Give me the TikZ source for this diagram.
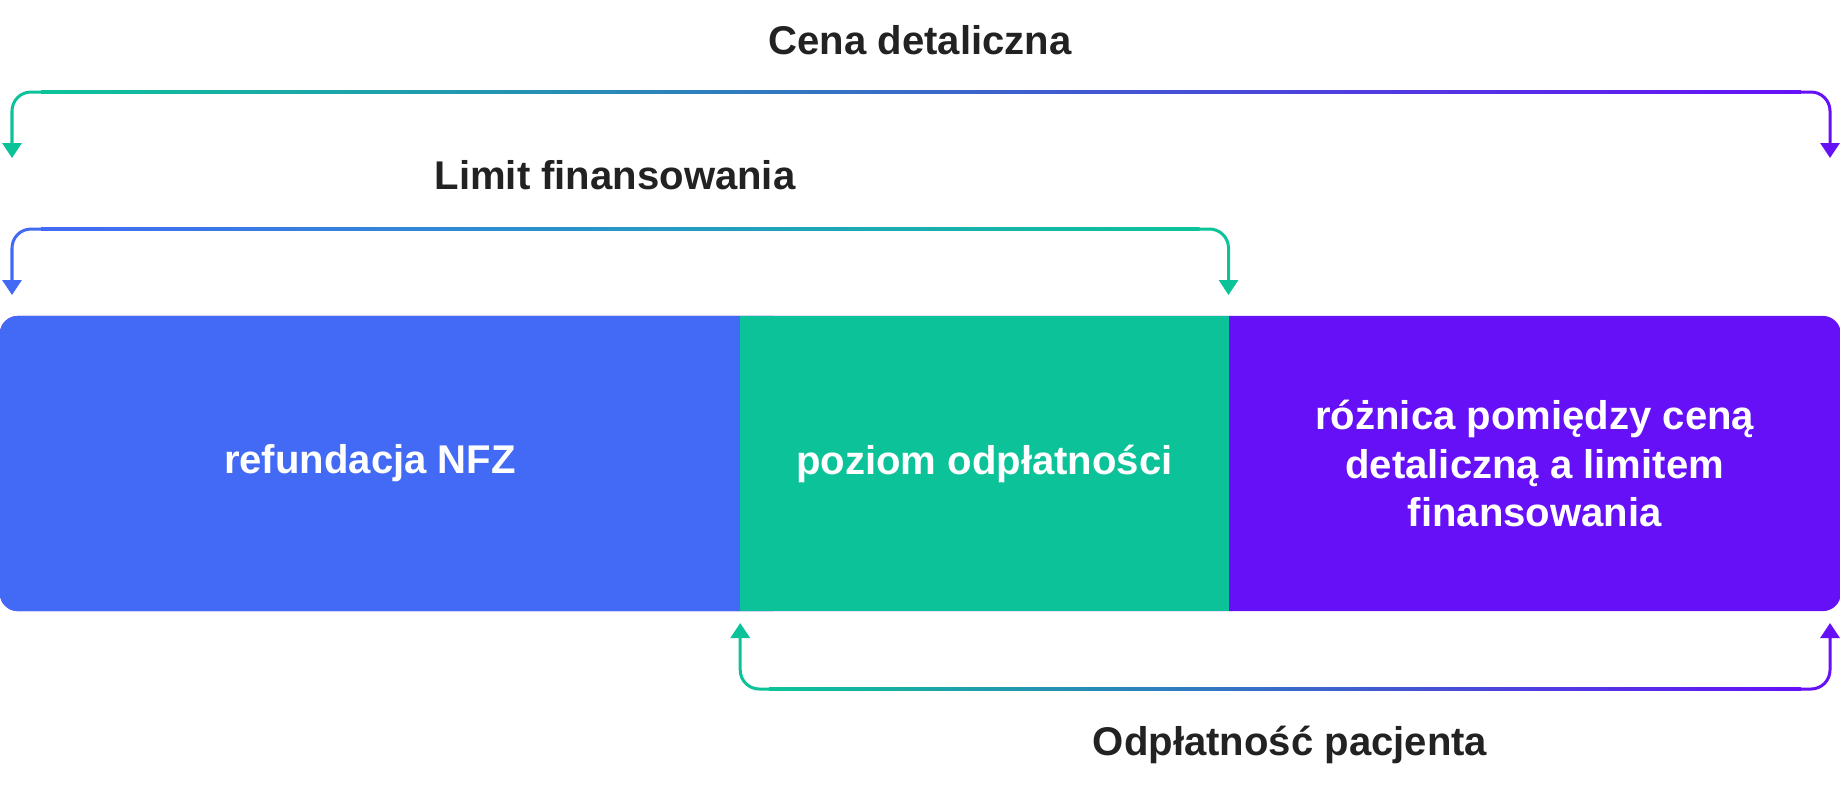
\documentclass[tikz,border=0pt]{standalone}
\usepackage{fontspec}
\setmainfont{Liberation Sans}
\usetikzlibrary{arrows.meta}
\usetikzlibrary{positioning}
\usetikzlibrary{backgrounds}
\definecolor{nfzblue}{HTML}{436AF5}
\definecolor{paygreen}{HTML}{0CC399}
\definecolor{diffviolet}{HTML}{6610F7}
\definecolor{labelgray}{HTML}{222222}
\newcommand{\barfont}{\fontsize{11.4}{13.66}\selectfont\bfseries}
\tikzset{seg/.style = {inner sep = 0, outer sep = 0, minimum height = 2.95cm,
                       text = white, font = \barfont, align = center}}
\tikzset{title/.style = {text = labelgray, font = \barfont}}
\tikzset{brk/.style = {line width = 0.03cm, rounded corners = 0.19cm,
                       -{Triangle[width = 0.19cm, length = 0.15cm]}}}

\begin{document}
\begin{tikzpicture}[x = 0.01cm, y = -0.01cm]
      \useasboundingbox (0, 0) rectangle (1840, 796);
      % the bar
      \node [seg, minimum width = 7.4cm] (nfz) at (370, 463.5) {refundacja NFZ};
      \node [seg, minimum width = 4.88cm, fill = paygreen, right = 0pt of nfz] (poziom) {poziom odpłatności};
      \node [seg, minimum width = 6.12cm, right = 0pt of poziom] (roznica) {różnica pomiędzy ceną\\detaliczną a limitem\\finansowania};
      \begin{scope}[on background layer]
        \fill [diffviolet, rounded corners = 0.18cm] (nfz.north west) rectangle (roznica.south east);
        \fill [nfzblue, rounded corners = 0.18cm] (nfz.north west) rectangle ([xshift = 0.5cm]nfz.south east);
      \end{scope}
      % bracket ends
      \coordinate (cena-lc) at (12, 92);
      \coordinate (cena-l) at (12, 158);
      \coordinate (cena-rc) at (1830, 92);
      \coordinate (cena-r) at (1830, 158);
      \coordinate (limit-lc) at (12, 229);
      \coordinate (limit-l) at (12, 295);
      \coordinate (limit-rc) at (poziom.north east |- 0, 229);
      \coordinate (limit-r) at (poziom.north east |- 0, 295);
      \coordinate (pac-lc) at (poziom.south west |- 0, 689);
      \coordinate (pac-l) at (poziom.south west |- 0, 623);
      \coordinate (pac-rc) at (1830, 689);
      \coordinate (pac-r) at (1830, 623);
      % Cena detaliczna
      \draw [brk, paygreen] ([xshift = 0.3cm]cena-lc) -- (cena-lc) -- (cena-l);
      \draw [brk, diffviolet] ([xshift = -0.3cm]cena-rc) -- (cena-rc) -- (cena-r);
      \shade [left color = paygreen, right color = diffviolet]
        ([xshift = 0.29cm, yshift = 0.015cm]cena-lc) rectangle ([xshift = -0.29cm, yshift = -0.015cm]cena-rc);
      % Limit finansowania
      \draw [brk, nfzblue] ([xshift = 0.3cm]limit-lc) -- (limit-lc) -- (limit-l);
      \draw [brk, paygreen] ([xshift = -0.3cm]limit-rc) -- (limit-rc) -- (limit-r);
      \shade [left color = nfzblue, right color = paygreen]
        ([xshift = 0.29cm, yshift = 0.015cm]limit-lc) rectangle ([xshift = -0.29cm, yshift = -0.015cm]limit-rc);
      % Odpłatność pacjenta
      \draw [brk, paygreen] ([xshift = 0.3cm]pac-lc) -- (pac-lc) -- (pac-l);
      \draw [brk, diffviolet] ([xshift = -0.3cm]pac-rc) -- (pac-rc) -- (pac-r);
      \shade [left color = paygreen, right color = diffviolet]
        ([xshift = 0.29cm, yshift = 0.015cm]pac-lc) rectangle ([xshift = -0.29cm, yshift = -0.015cm]pac-rc);
      % labels
      \node [title] (cena) at (920, 40) {Cena detaliczna};
      \node [title] (limit) at (615, 175) {Limit finansowania};
      \node [title] (pacjent) at (1290, 745) {Odpłatność pacjenta};
\end{tikzpicture}
\end{document}
